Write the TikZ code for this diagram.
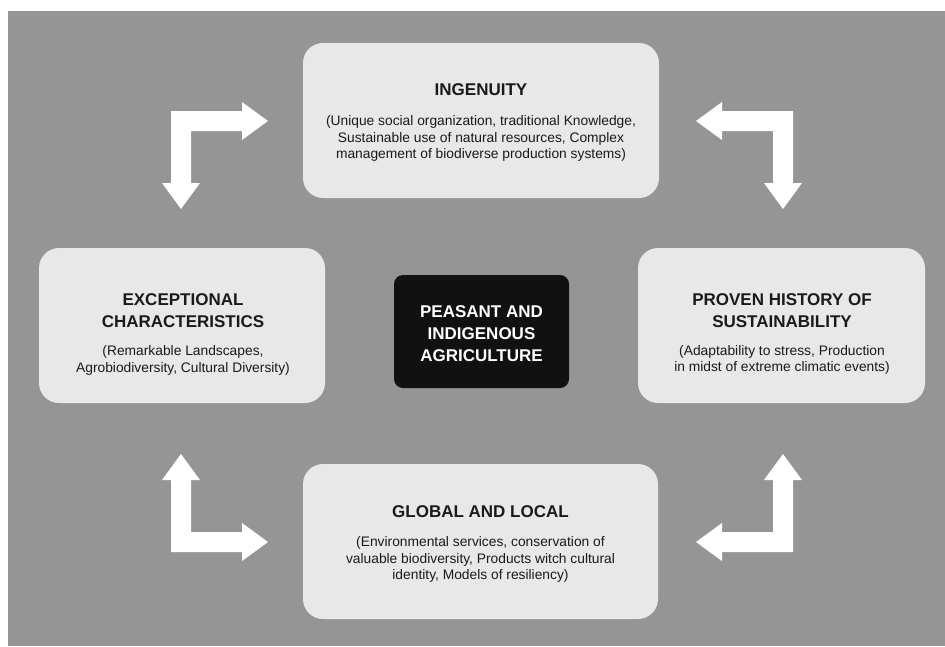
\documentclass[tikz,border=0pt]{standalone}
\usepackage{fontspec}
\setmainfont{Liberation Sans}
\definecolor{bggray}{HTML}{959595}
\definecolor{boxfill}{HTML}{E8E8E8}
\definecolor{coreblack}{HTML}{111111}
\definecolor{txt}{HTML}{1A1A1A}
\tikzset{
  panel/.style={fill=boxfill, rounded corners=20pt, inner sep=0pt},
  core/.style={fill=coreblack, rounded corners=9pt, inner sep=0pt},
  titletext/.style={anchor=base, align=center, inner sep=0pt, text=txt,
    font=\bfseries\fontsize{17}{22}\selectfont},
  bodytext/.style={anchor=base, align=center, inner sep=0pt, text=txt,
    font=\fontsize{13.8}{16.3}\selectfont},
  coretext/.style={anchor=base, align=center, inner sep=0pt, text=white,
    font=\bfseries\fontsize{17}{22}\selectfont},
  blockarrow/.style={fill=white, draw=none}
}
\begin{document}
\begin{tikzpicture}[x=1pt,y=-1pt]
\useasboundingbox (0,0) rectangle (945,646);
\fill[white] (0,0) rectangle (945,646);
\fill[bggray] (8,11) rectangle (945,646);

% boxes
\node[panel, minimum width=356pt, minimum height=155pt] (top) at (481,120.5) {};
\node[panel, minimum width=286pt, minimum height=155pt] (left) at (182,325.5) {};
\node[panel, minimum width=287pt, minimum height=155pt] (right) at (781.5,325.5) {};
\node[panel, minimum width=355pt, minimum height=155pt] (bottom) at (480.5,541.5) {};
\node[core, minimum width=175pt, minimum height=113pt] (center) at (481.5,331.5) {};

% texts (base anchor = baseline of the last line)
\node[titletext] (toptitle) at (481,95) {INGENUITY};
\node[bodytext] (topbody) at (481,158.5) {(Unique social organization, traditional Knowledge,\\Sustainable use of natural resources, Complex\\management of biodiverse production systems)};

\node[titletext] (lefttitle) at (183,327) {EXCEPTIONAL\\CHARACTERISTICS};
\node[bodytext] (leftbody) at (183,372) {(Remarkable Landscapes,\\Agrobiodiversity, Cultural Diversity)};

\node[titletext] (righttitle) at (782,327) {PROVEN HISTORY OF\\SUSTAINABILITY};
\node[bodytext] (rightbody) at (782,371.5) {(Adaptability to stress, Production\\in midst of extreme climatic events)};

\node[titletext] (bottomtitle) at (480.5,517) {GLOBAL AND LOCAL};
\node[bodytext] (bottombody) at (480.5,579.5) {(Environmental services, conservation of\\valuable biodiversity, Products witch cultural\\identity, Models of resiliency)};

\node[coretext] (coretitle) at (481.5,361) {PEASANT AND\\INDIGENOUS\\AGRICULTURE};

% elbow block arrows
\fill[blockarrow] (171,111) -- (242,111) -- (242,102) -- (268,121) -- (242,140) -- (242,131) -- (191,131) -- (191,183) -- (200,183) -- (181,209) -- (162,183) -- (171,183) -- cycle;
\fill[blockarrow] (793,111) -- (722,111) -- (722,102) -- (696,121) -- (722,140) -- (722,131) -- (773,131) -- (773,183) -- (764,183) -- (783,209) -- (802,183) -- (793,183) -- cycle;
\fill[blockarrow] (171,552) -- (242,552) -- (242,561) -- (268,542) -- (242,523) -- (242,532) -- (191,532) -- (191,480) -- (200,480) -- (181,454) -- (162,480) -- (171,480) -- cycle;
\fill[blockarrow] (793,552) -- (722,552) -- (722,561) -- (696,542) -- (722,523) -- (722,532) -- (773,532) -- (773,480) -- (764,480) -- (783,454) -- (802,480) -- (793,480) -- cycle;
\end{tikzpicture}
\end{document}
